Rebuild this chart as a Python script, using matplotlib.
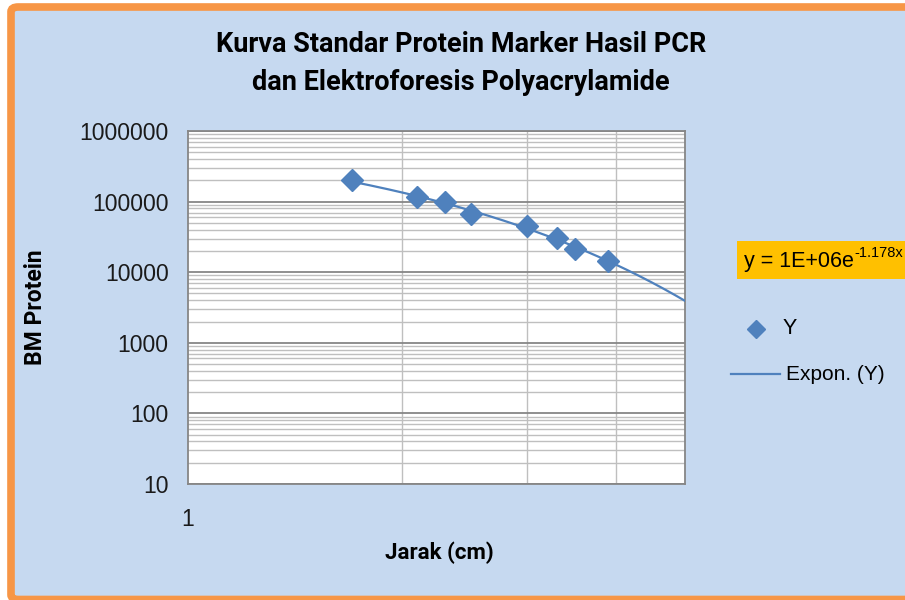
import numpy as np
import matplotlib.pyplot as plt
from matplotlib.patches import FancyBboxPatch, Rectangle
from matplotlib.lines import Line2D
from matplotlib.ticker import LogLocator, NullFormatter, FixedLocator
from matplotlib import font_manager

# data
jarak = [1.7, 2.1, 2.3, 2.5, 3.0, 3.3, 3.5, 3.9]
bm = [200000, 116250, 97400, 66200, 45000, 31000, 21500, 14400]
y_ticks = [10, 100, 1000, 10000, 100000, 1000000]
y_labels = ["10", "100", "1000", "10000", "100000", "1000000"]

blue = "#4F81BD"
names = set(f.name for f in font_manager.fontManager.ttflist)
narrow = "Liberation Sans Narrow" if "Liberation Sans Narrow" in names else "Roboto"
plain = "Liberation Sans" if "Liberation Sans" in names else "Roboto"

W, H = 905, 600
fig = plt.figure(figsize=(9.05, 6.0), dpi=100)
fig.patch.set_facecolor("white")

def fx(px):
    return px / W

def fy(py):
    return 1 - py / H

# background panel with orange border
panel = FancyBboxPatch((fx(11), fy(599.5)), 1.2, (599.5 - 7) / H,
                       boxstyle="round,pad=0,rounding_size=0.008",
                       transform=fig.transFigure, facecolor="#C6D9F0",
                       edgecolor="#F79646", linewidth=5.5, zorder=-5)
fig.patches.append(panel)

ax = fig.add_axes([fx(188), fy(484), 497 / W, 353 / H])
ax.set_facecolor("white")
ax.set_xscale("log")
ax.set_yscale("log")
ax.set_xlim(1, 5)
ax.set_ylim(10, 1000000)

# grid
ax.yaxis.set_major_locator(FixedLocator(y_ticks))
ax.yaxis.set_minor_locator(LogLocator(base=10, subs=np.arange(2, 10)))
ax.yaxis.set_minor_formatter(NullFormatter())
ax.xaxis.set_major_locator(FixedLocator([1]))
ax.xaxis.set_minor_locator(FixedLocator([2, 3, 4]))
ax.xaxis.set_minor_formatter(NullFormatter())
ax.grid(True, which="major", axis="y", color="#868686", linewidth=1.3)
ax.grid(True, which="minor", axis="both", color="#BFBFBF", linewidth=1.0)
ax.set_axisbelow(True)
for s in ax.spines.values():
    s.set_color("#868686")
    s.set_linewidth(1.3)

ax.set_yticklabels(y_labels)
ax.set_xticklabels(["1"])
ax.tick_params(which="both", length=0)
ax.tick_params(axis="y", pad=14, labelsize=16.5, labelcolor="#1a1a1a")
ax.tick_params(axis="x", pad=17, labelsize=16.5, labelcolor="#1a1a1a")
for t in ax.get_yticklabels() + ax.get_xticklabels():
    t.set_family(plain)
for t in ax.get_xticklabels():
    t.set_x(1.02)

# exponential trendline
coef = np.polyfit(jarak, np.log(bm), 1)
xt = np.linspace(jarak[0], 5, 200)
ax.plot(xt, np.exp(coef[1]) * np.exp(coef[0] * xt), color=blue, linewidth=1.6, zorder=3)
ax.plot(jarak, bm, linestyle="none", marker="D", markersize=11.5,
        color=blue, zorder=4, clip_on=False)

# titles
fig.text(fx(461), fy(45), "Kurva Standar Protein Marker Hasil PCR",
         ha="center", va="center", fontsize=19.5, fontweight="bold", family=narrow)
fig.text(fx(461), fy(82), "dan Elektroforesis Polyacrylamide",
         ha="center", va="center", fontsize=19.5, fontweight="bold", family=narrow)
fig.text(fx(439), fy(553), "Jarak (cm)", ha="center", va="center",
         fontsize=16, fontweight="bold", family=narrow)
fig.text(fx(35), fy(307), "BM Protein", ha="center", va="center",
         rotation=90, fontsize=16.5, fontweight="bold", family=narrow)

# equation label
fig.patches.append(Rectangle((fx(737), fy(279)), 0.3, 38 / H,
                             transform=fig.transFigure, facecolor="#FFC000",
                             edgecolor="none", zorder=2))
eq = fig.text(fx(744), fy(261), "y = 1E+06e", ha="left", va="center",
              fontsize=15.5, family=plain, zorder=3)
fig.canvas.draw()
bb = eq.get_window_extent()
fig.text(bb.x1 / W + 0.001, fy(253), "-1.178x", ha="left", va="center",
         fontsize=10.5, family=plain, zorder=3)

# legend, placed by hand
fig.add_artist(Line2D([fx(756)], [fy(329)], linestyle="none", marker="D",
                      markersize=9.5, color=blue, transform=fig.transFigure))
fig.text(fx(783), fy(329), "Y", ha="left", va="center", fontsize=15.5, family=plain)
fig.add_artist(Line2D([fx(731), fx(780)], [fy(374), fy(374)], color=blue,
                      linewidth=1.6, transform=fig.transFigure))
fig.text(fx(786), fy(374), "Expon. (Y)", ha="left", va="center", fontsize=15,
         family=plain)

fig.savefig("out.png", dpi=100)
